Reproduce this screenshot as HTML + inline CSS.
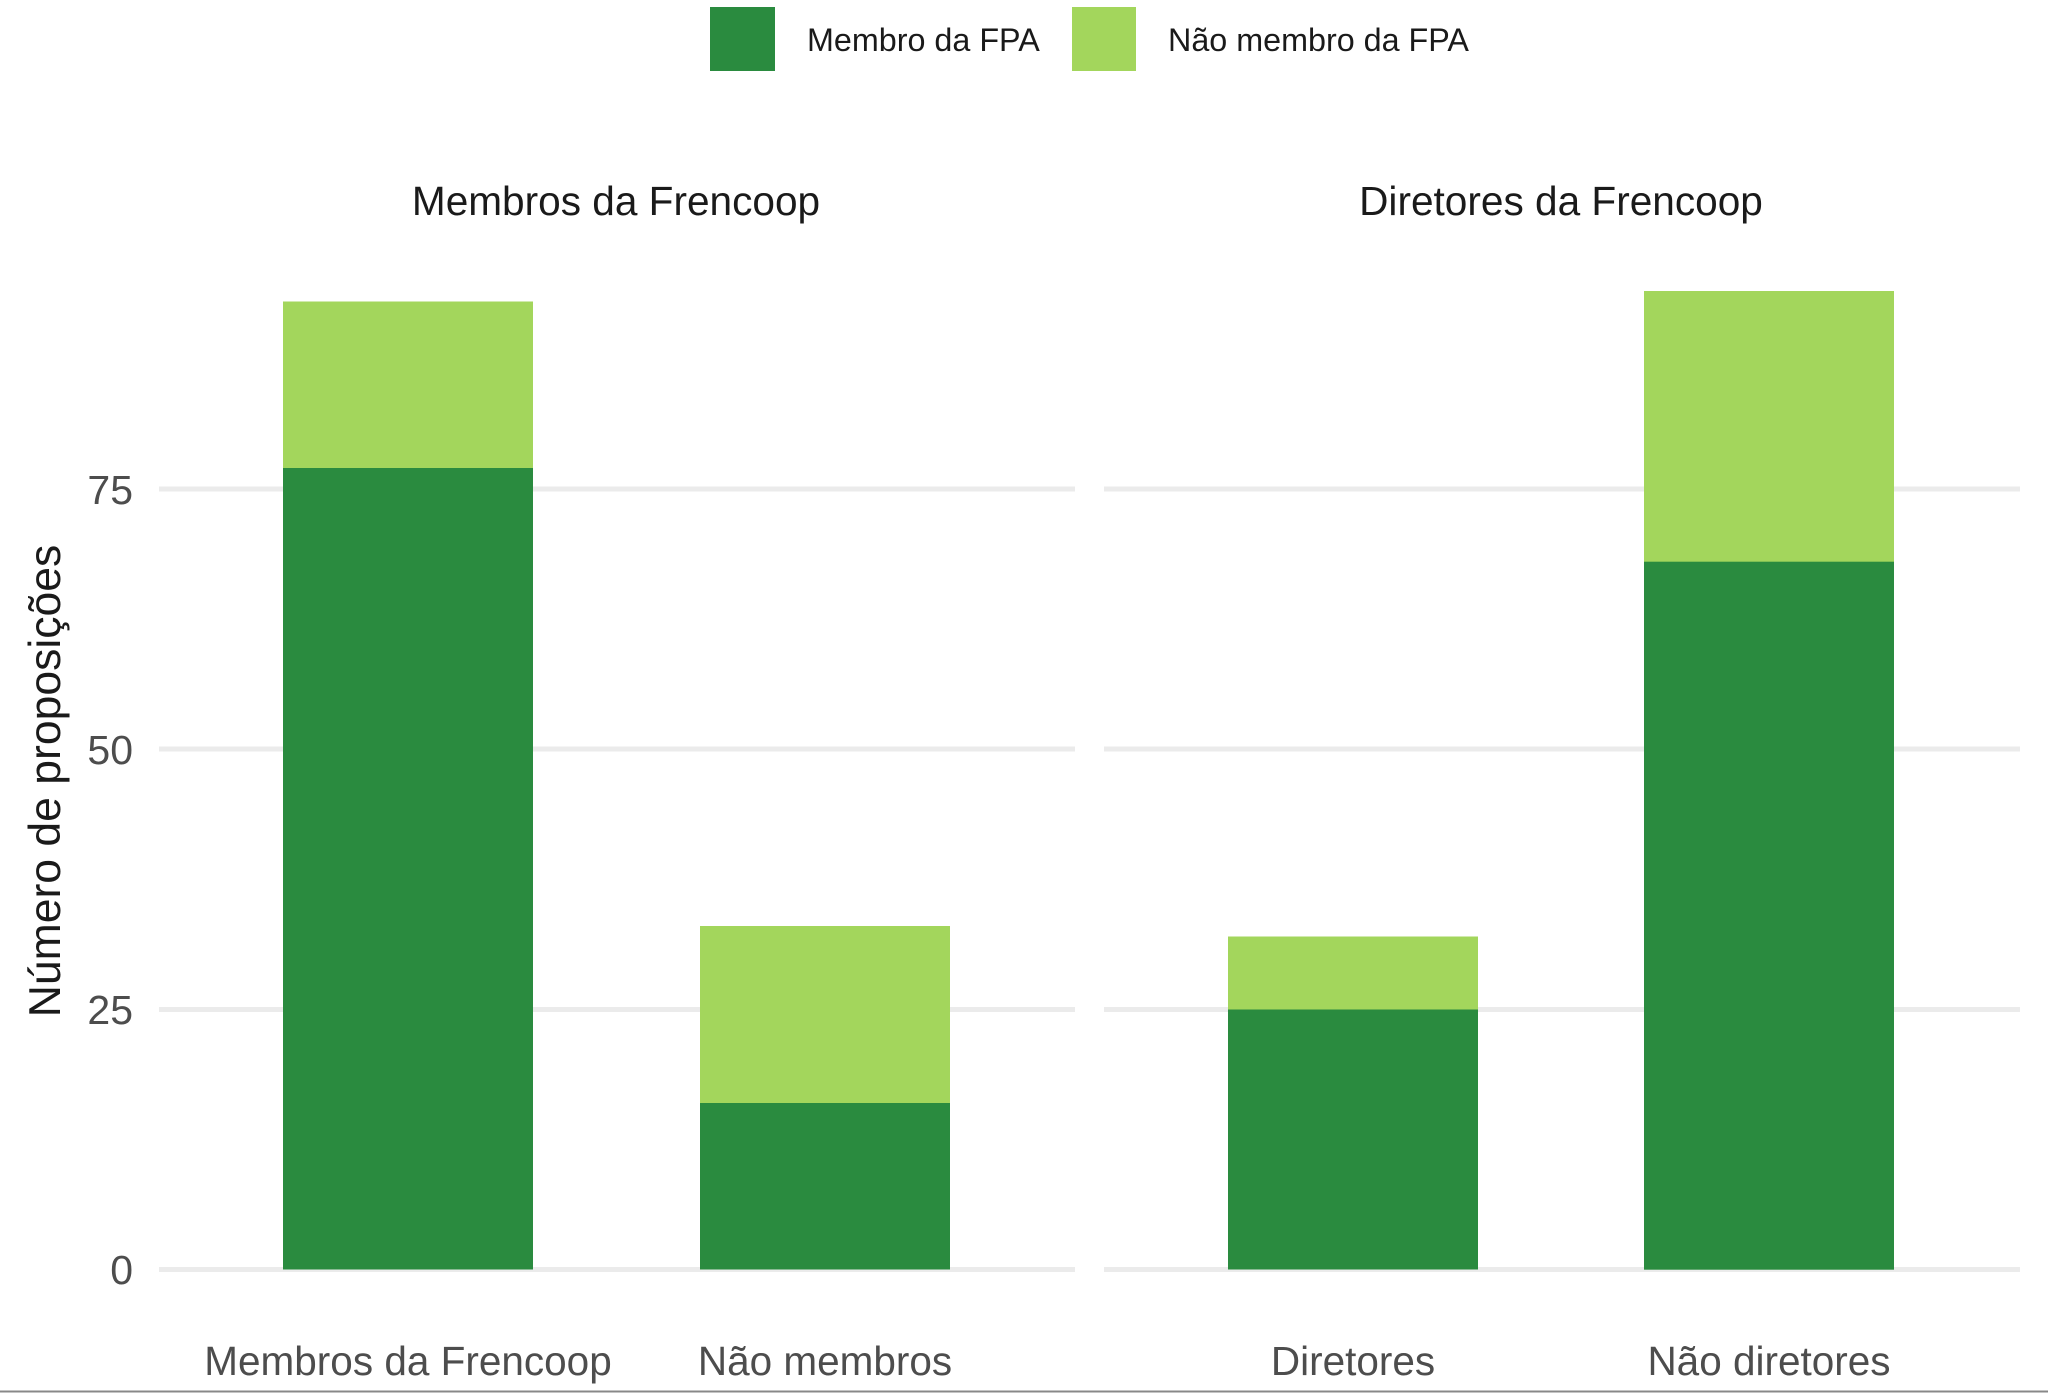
<!DOCTYPE html>
<html><head><meta charset="utf-8"><style>
html,body{margin:0;padding:0;background:#fff;}
svg{display:block;font-family:"Liberation Sans",Arial,sans-serif;}
</style></head><body>
<svg width="2048" height="1393" viewBox="0 0 2048 1393" xmlns="http://www.w3.org/2000/svg">
<rect width="2048" height="1393" fill="#fff"/>
<!-- legend -->
<rect x="710" y="7" width="65" height="64" fill="#2a8b3f"/>
<text x="807" y="51" font-size="32.3" fill="#1a1a1a">Membro da FPA</text>
<rect x="1072" y="7" width="64" height="64" fill="#a3d65c"/>
<text x="1168" y="51" font-size="32.3" fill="#1a1a1a">Não membro da FPA</text>
<!-- facet titles -->
<text x="616" y="215" font-size="40.6" fill="#1a1a1a" text-anchor="middle">Membros da Frencoop</text>
<text x="1561" y="215" font-size="40.6" fill="#1a1a1a" text-anchor="middle">Diretores da Frencoop</text>
<!-- grid -->
<g stroke="#ebebeb" stroke-width="5">
<line x1="159" x2="1075" y1="489" y2="489"/><line x1="159" x2="1075" y1="749" y2="749"/><line x1="159" x2="1075" y1="1009.5" y2="1009.5"/><line x1="159" x2="1075" y1="1269.5" y2="1269.5"/>
<line x1="1104" x2="2020" y1="489" y2="489"/><line x1="1104" x2="2020" y1="749" y2="749"/><line x1="1104" x2="2020" y1="1009.5" y2="1009.5"/><line x1="1104" x2="2020" y1="1269.5" y2="1269.5"/>
</g>
<!-- bars -->
<rect x="283" y="301.5" width="250" height="167" fill="#a3d65c"/>
<rect x="283" y="468" width="250" height="801.5" fill="#2a8b3f"/>
<rect x="700" y="926" width="250" height="177" fill="#a3d65c"/>
<rect x="700" y="1103" width="250" height="166.5" fill="#2a8b3f"/>
<rect x="1228" y="936.5" width="250" height="73" fill="#a3d65c"/>
<rect x="1228" y="1009.5" width="250" height="260" fill="#2a8b3f"/>
<rect x="1644" y="291" width="250" height="271" fill="#a3d65c"/>
<rect x="1644" y="561.7" width="250" height="708" fill="#2a8b3f"/>
<!-- y ticks -->
<g font-size="41" fill="#4d4d4d" text-anchor="end">
<text x="133" y="504">75</text><text x="133" y="764">50</text><text x="133" y="1024">25</text><text x="133" y="1284">0</text>
</g>
<text transform="translate(60,781) rotate(-90)" font-size="44.5" fill="#1a1a1a" text-anchor="middle">Número de proposições</text>
<!-- x labels -->
<g font-size="40.5" fill="#4d4d4d" text-anchor="middle">
<text x="408" y="1375">Membros da Frencoop</text>
<text x="825" y="1375">Não membros</text>
<text x="1353" y="1375">Diretores</text>
<text x="1769" y="1375">Não diretores</text>
</g>
<line x1="0" x2="2048" y1="1391.5" y2="1391.5" stroke="#888" stroke-width="2"/>
</svg>
</body></html>
